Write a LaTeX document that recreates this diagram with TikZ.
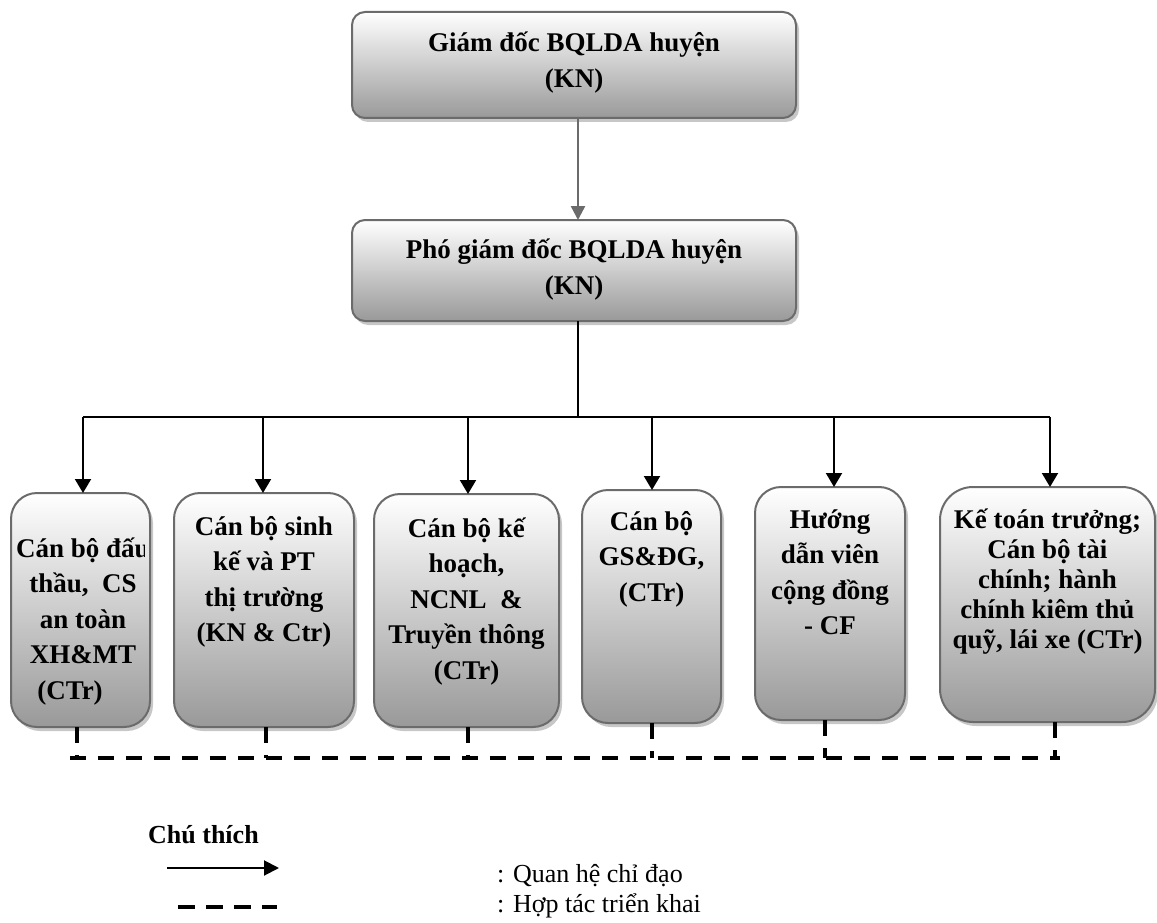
\documentclass[tikz,border=0pt]{standalone}
\usepackage{fontspec}
\setmainfont{Liberation Serif}
\usetikzlibrary{arrows.meta,shadows,calc}
\tikzset{
  boxbase/.style={draw=black!58, line width=2pt, inner sep=0pt, outer sep=0pt,
    top color=white, bottom color=black!40,
    drop shadow={shadow xshift=3pt, shadow yshift=-4pt, fill=black!22, opacity=1},
    font=\bfseries\fontsize{27}{35.5}\selectfont},
  topbox/.style={boxbase, rounded corners=13pt, font=\bfseries\fontsize{27}{36}\selectfont},
  lowbox/.style={boxbase, rounded corners=26pt},
  arr/.style={line width=2pt, black, -{Triangle[length=14pt,width=16pt]}},
  greyarr/.style={line width=2.5pt, black!58, -{Triangle[length=14pt,width=14pt]}},
  plain/.style={line width=2pt, black},
  dsh/.style={line width=4pt, black, dash pattern=on 15.5pt off 12.5pt},
  legtext/.style={inner sep=0pt, anchor=base west, font=\fontsize{26}{30}\selectfont}
}
\begin{document}
\begin{tikzpicture}[x=1pt,y=-1pt]
\useasboundingbox (0,0) rectangle (1157,923);

% top boxes
\node[topbox] (T1) at (574,65) {\parbox[c][106pt][t]{444pt}{\centering\vspace*{14pt}\rule{0pt}{26pt}Giám đốc BQLDA huyện\\(KN)}};
\node[topbox] (T2) at (574,270.5) {\parbox[c][101pt][t]{444pt}{\centering\vspace*{12pt}\rule{0pt}{26pt}Phó giám đốc BQLDA huyện\\(KN)}};

% lower boxes
\node[lowbox, minimum width=139pt, minimum height=234pt,
  path picture={
    \clip (path picture bounding box.south west) rectangle ([xshift=-6pt]path picture bounding box.north east);
    \node[anchor=north, inner sep=0pt, font=\bfseries\fontsize{27}{35.5}\selectfont] at ([xshift=2.5pt]path picture bounding box.north)
      {\parbox[t]{139pt}{\centering\vspace*{16pt}\rule{0pt}{26pt}Cán bộ đấu\\thầu,~~CS\\an toàn\\XH\&MT\\(CTr)\hspace*{26pt}}};
  }] (A) at (80.5,610) {};
\node[lowbox] (B) at (264,610) {\parbox[c][234pt][t]{180pt}{\centering\vspace*{16pt}\rule{0pt}{26pt}Cán bộ sinh\\kế và PT\\thị trường\\(KN \& Ctr)}};
\node[lowbox] (C) at (466.5,610.5) {\parbox[c][233pt][t]{185pt}{\centering\vspace*{17pt}\rule{0pt}{26pt}Cán bộ kế\\hoạch,\\NCNL~~\&\\Truyền thông\\(CTr)}};
\node[lowbox] (D) at (651.5,606.5) {\parbox[c][233pt][t]{139pt}{\centering\vspace*{14pt}\rule{0pt}{26pt}Cán bộ\\GS\&ĐG,\\(CTr)}};
\node[lowbox] (E) at (830,603.5) {\parbox[c][233pt][t]{150pt}{\centering\vspace*{15pt}\rule{0pt}{26pt}Hướng\\dẫn viên\\cộng đồng\\- CF}};
\node[lowbox, rounded corners=33pt, font=\bfseries\fontsize{27}{30}\selectfont] (F) at (1047.5,604.5) {\parbox[c][235pt][t]{215pt}{\centering\vspace*{15pt}\rule{0pt}{26pt}Kế toán trưởng;\\Cán bộ tài\\chính; hành\\chính kiêm thủ\\quỹ, lái xe (CTr)}};

% connectors
\draw[greyarr] ([xshift=4pt]T1.south) -- ([xshift=4pt]T2.north);
\coordinate (hub) at (578,417);
\coordinate (hA) at (83,417);
\coordinate (hB) at (263,417);
\coordinate (hC) at (468,417);
\coordinate (hD) at (652,417);
\coordinate (hE) at (834,417);
\coordinate (hF) at (1050,417);
\draw[plain] ([xshift=4pt]T2.south) -- (hub);
\draw[plain] (hA) -- (hF);
\foreach \b in {A,B,C,D,E,F}{
  \draw[arr] (h\b) -- (h\b |- \b.north);
}

% dashed cooperation line
\coordinate (dl) at (70,758);
\coordinate (dr) at (1060,758);
\coordinate (dA) at (77,758);
\coordinate (dB) at (266,758);
\coordinate (dC) at (468,758);
\coordinate (dD) at (652,758);
\coordinate (dE) at (825,758);
\coordinate (dF) at (1055,758);
\draw[dsh] (dl) -- (dr);
\foreach \b in {A,B,C,D,E,F}{
  \draw[dsh] (d\b |- \b.south) -- (d\b);
}

% legend
\node[legtext, font=\bfseries\fontsize{26}{30}\selectfont] (leg) at (148,843) {Chú thích};
\coordinate (la1) at (167,868);
\coordinate (la2) at (279,868);
\draw[line width=2pt, -{Triangle[length=15pt,width=15pt]}] (la1) -- (la2);
\coordinate (ld1) at (178,907);
\coordinate (ld2) at (277,907);
\draw[line width=4pt, dash pattern=on 17pt off 11pt] (ld1) -- (ld2);
\node[legtext] (q1) at (497,882) {: Quan hệ chỉ đạo};
\node[legtext] (q2) at (497,912) {: Hợp tác triển khai};
\end{tikzpicture}
\end{document}
